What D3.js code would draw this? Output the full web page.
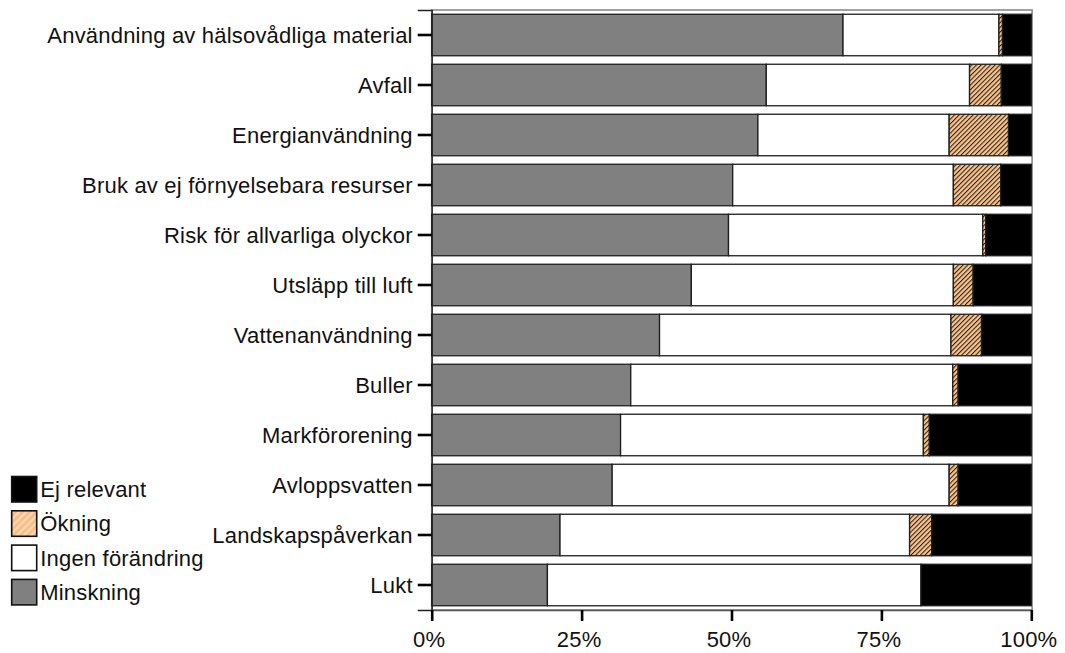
<!DOCTYPE html>
<html>
<head>
<meta charset="utf-8">
<script src="https://cdn.jsdelivr.net/npm/d3@7"></script>
<style>
  html, body { margin: 0; padding: 0; background: #fff; }
  svg { display: block; }
  text { font-family: "Liberation Sans", Arial, sans-serif; fill: #111; letter-spacing: 0.2px; }
</style>
</head>
<body>
<svg id="chart" width="1065" height="653"></svg>
<script>
// Kategorier (uppifrån och ned)
const categories = [
  "Användning av hälsovådliga material",
  "Avfall",
  "Energianvändning",
  "Bruk av ej förnyelsebara resurser",
  "Risk för allvarliga olyckor",
  "Utsläpp till luft",
  "Vattenanvändning",
  "Buller",
  "Markförorening",
  "Avloppsvatten",
  "Landskapspåverkan",
  "Lukt"
];

// Andel svar (%) per kategori
const minskning       = [68.6, 55.8, 54.4, 50.2, 49.5, 43.3, 38.0, 33.2, 31.5, 30.1, 21.4, 19.3];
const ingenForandring = [26.0, 33.9, 31.9, 36.8, 42.4, 43.7, 48.6, 53.7, 50.5, 56.2, 58.3, 62.3];
const okning          = [ 0.6,  5.3,  9.9,  7.9,  0.5,  3.3,  5.1,  0.9,  1.0,  1.5,  3.7,  0.0];
const ejRelevant      = [ 4.8,  5.0,  3.8,  5.1,  7.6,  9.7,  8.3, 12.2, 17.0, 12.2, 16.6, 18.4];

const seriesKeys   = ["Minskning", "Ingen förändring", "Ökning", "Ej relevant"];
const legendOrder  = ["Ej relevant", "Ökning", "Ingen förändring", "Minskning"];
const xTickValues  = [0, 25, 50, 75, 100];

const rows = categories.map((c, i) => ({
  category: c,
  "Minskning": minskning[i],
  "Ingen förändring": ingenForandring[i],
  "Ökning": okning[i],
  "Ej relevant": ejRelevant[i]
}));

const svg = d3.select("#chart");

const plot = { left: 431.7, right: 1031.3, top: 10, bottom: 610 };

const x = d3.scaleLinear().domain([0, 100]).range([plot.left, plot.right]);
const y = d3.scaleBand()
  .domain(categories)
  .range([plot.top, plot.bottom])
  .paddingInner(0.17)
  .paddingOuter(0.085);

// Mönster: orange bakgrund med diagonala streck
const defs = svg.append("defs");
const hatch = defs.append("pattern")
  .attr("id", "hatch")
  .attr("patternUnits", "userSpaceOnUse")
  .attr("width", 3.3).attr("height", 3.3)
  .attr("patternTransform", "rotate(45)");
hatch.append("rect").attr("width", 3.3).attr("height", 3.3).attr("fill", "#f7c38c");
hatch.append("line").attr("x1", 0.5).attr("y1", 0).attr("x2", 0.5).attr("y2", 3.3)
  .attr("stroke", "#2a2018").attr("stroke-width", 1.05);

const hatchLegend = defs.append("pattern")
  .attr("id", "hatchLegend")
  .attr("patternUnits", "userSpaceOnUse")
  .attr("width", 5).attr("height", 5)
  .attr("patternTransform", "rotate(45)");
hatchLegend.append("rect").attr("width", 5).attr("height", 5).attr("fill", "#f8bf86");
hatchLegend.append("line").attr("x1", 1).attr("y1", 0).attr("x2", 1).attr("y2", 5)
  .attr("stroke", "#fde0c2").attr("stroke-width", 1.6);

const fills = {
  "Minskning": "#808080",
  "Ingen förändring": "#ffffff",
  "Ökning": "url(#hatch)",
  "Ej relevant": "#000000"
};
const legendFills = Object.assign({}, fills, { "Ökning": "url(#hatchLegend)" });

// Ram runt diagramytan
svg.append("rect")
  .attr("x", plot.left).attr("y", plot.top)
  .attr("width", plot.right - plot.left + 0.8)
  .attr("height", plot.bottom - plot.top)
  .attr("fill", "#fff")
  .attr("stroke", "#8a8a8a")
  .attr("stroke-width", 1.6);

// Staplade staplar
const stacked = d3.stack().keys(seriesKeys)(rows);

svg.append("g")
  .selectAll("g")
  .data(stacked)
  .join("g")
    .attr("fill", d => fills[d.key])
  .selectAll("rect")
  .data(d => d.filter(s => s[1] - s[0] > 0))
  .join("rect")
    .attr("x", d => x(d[0]))
    .attr("y", d => y(d.data.category))
    .attr("width", d => x(d[1]) - x(d[0]))
    .attr("height", y.bandwidth())
    .attr("stroke", "#1e1e1e")
    .attr("stroke-width", 1.3);

// Y-axel
const yAxis = svg.append("g")
  .attr("transform", `translate(${plot.left},0)`)
  .call(d3.axisLeft(y).tickSize(14).tickPadding(5));
yAxis.select(".domain").attr("stroke", "#222").attr("stroke-width", 1.4);
yAxis.selectAll(".tick line").attr("stroke", "#000").attr("stroke-width", 2.6);
yAxis.selectAll(".tick text")
  .attr("font-size", 22)
  .attr("dy", "0.35em")
  .style("font-family", "'Liberation Sans', Arial, sans-serif");

// X-axel
const xAxis = svg.append("g")
  .attr("transform", `translate(0,${plot.bottom})`)
  .call(d3.axisBottom(x).tickValues(xTickValues).tickFormat(d => d + "%").tickSize(11).tickPadding(10.5));
xAxis.select(".domain").attr("stroke", "#555").attr("stroke-width", 1.4);
xAxis.selectAll(".tick line").attr("stroke", "#000").attr("stroke-width", 2.6);
xAxis.selectAll(".tick text")
  .attr("font-size", 22)
  .attr("dx", -3)
  .style("font-family", "'Liberation Sans', Arial, sans-serif");

// Teckenförklaring
const legend = svg.append("g").attr("transform", "translate(11.7,476.5)");
const li = legend.selectAll("g")
  .data(legendOrder)
  .join("g")
    .attr("transform", (d, i) => `translate(0,${i * 34.3})`);
li.append("rect")
  .attr("width", 25).attr("height", 25.5)
  .attr("fill", d => legendFills[d])
  .attr("stroke", "#111")
  .attr("stroke-width", 1.6);
li.append("text")
  .attr("x", 28.5)
  .attr("y", 12.75)
  .attr("dy", "0.36em")
  .attr("font-size", 22)
  .text(d => d);
</script>
</body>
</html>
